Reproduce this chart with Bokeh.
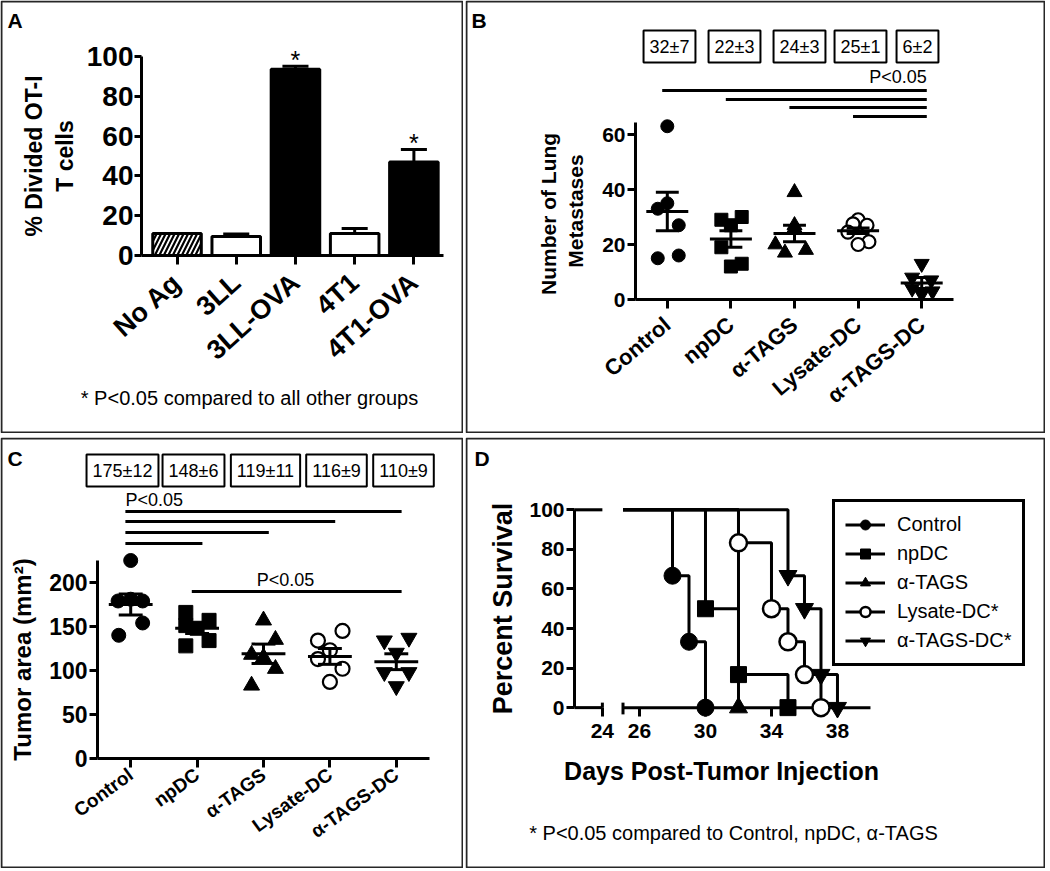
import math
from bokeh.plotting import figure
from bokeh.models import Range1d, FixedTicker, Label, Legend, LegendItem, ColumnDataSource, BoxAnnotation
from bokeh.layouts import row, column
from bokeh.embed import file_html
from bokeh.resources import INLINE
from bokeh.core.properties import value

FONT = "Liberation Sans"

# ======================= DATA =======================
# Panel A
a_groups = ["No Ag", "3LL", "3LL-OVA", "4T1", "4T1-OVA"]
a_means = [11.0, 9.5, 93.5, 11.0, 47.0]
a_sems = [0.0, 1.3, 1.5, 2.6, 6.3]
a_stars = ["", "", "*", "", "*"]
a_yticks = [0, 20, 40, 60, 80, 100]
a_ylabel = "% Divided OT-I\nT cells"
a_note = "* P<0.05 compared to all other groups"

# Panels B and C
groups = ["Control", "npDC", "α-TAGS", "Lysate-DC", "α-TAGS-DC"]

b_control = [63, 33, 35, 27, 15, 16]
b_npdc = [29, 30, 19, 12, 13, 27]
b_atags = [39, 26, 20, 17, 18, 27]
b_lysate = [29, 27.5, 27, 24.5, 21, 20]
b_atagsdc = [13, 8, 7, 4, 2, 3]
b_means = [32, 22, 24, 25, 6]
b_sems = [7, 3, 3, 1, 2]
b_yticks = [0, 20, 40, 60]
b_sig_pairs = [(0, 4), (1, 4), (2, 4), (3, 4)]
b_ylabel = "Number of  Lung\nMetastases"

c_control = [225, 179, 181, 179, 154, 140]
c_npdc = [166, 151, 128, 157, 134, 148]
c_atags = [157, 135, 118, 115, 102, 83]
c_lysate = [145, 134, 123, 113, 102, 87]
c_atagsdc = [134, 137, 120, 98, 98, 82]
c_means = [175, 148, 119, 116, 110]
c_sems = [12, 6, 11, 9, 9]
c_yticks = [0, 50, 100, 150, 200]
c_sig_pairs_top = [(0, 4), (0, 3), (0, 2), (0, 1)]
c_sig_pairs_low = [(1, 4)]
c_ylabel = "Tumor area (mm²)"

sig_text = "P<0.05"

# Panel D (Kaplan-Meier)
d_labels = ["Control", "npDC", "α-TAGS", "Lysate-DC*", "α-TAGS-DC*"]
d_control_days = [28, 29, 30]
d_control_surv = [66.7, 33.3, 0]
d_npdc_days = [30, 32, 35]
d_npdc_surv = [50, 16.7, 0]
d_atags_days = [32]
d_atags_surv = [0]
d_lysate_days = [32, 34, 35, 36, 37]
d_lysate_surv = [83.3, 50, 33.3, 16.7, 0]
d_atagsdc_days = [35, 36, 37, 38]
d_atagsdc_surv = [66.7, 50, 16.7, 0]
d_xticks = [24, 26, 30, 34, 38]
d_yticks = [0, 20, 40, 60, 80, 100]
d_axis_end_day = 40
d_xlabel = "Days Post-Tumor Injection"
d_ylabel = "Percent Survival"
d_note = "* P<0.05 compared to Control, npDC, α-TAGS"

# ======================= LAYOUT / STYLE =======================
marker_types = ["circle", "square", "triangle", "circle", "inverted_triangle"]
marker_fill = ["black", "black", "black", "white", "black"]
a_bar_fill = ["white", "white", "black", "white", "black"]
a_bar_hatch = ["/", " ", " ", " ", " "]

b_jit = [[0, -0.15, 0, 0.18, -0.15, 0.18],
         [-0.15, 0.17, -0.15, 0, 0.17, 0],
         [0, 0, -0.3, -0.15, 0.18, 0],
         [0, -0.08, 0.14, -0.16, 0.17, 0],
         [0, -0.15, 0.15, -0.15, 0, 0.17]]
c_jit = [[0, -0.19, 0, 0.18, 0.18, -0.18],
         [-0.17, -0.17, -0.17, 0.18, 0.18, 0],
         [0, 0.18, -0.18, 0, 0.18, -0.18],
         [0.19, -0.18, 0, -0.18, 0.19, 0],
         [-0.18, 0.19, 0, -0.18, 0.19, 0]]
b_box_px = [204, 269, 334, 395, 452]
c_box_px = [122, 193, 265, 336, 403]


class Frame:
    """Maps canvas pixels (from the top-left of a panel) to data units.
    (l, r, t, b) is the pixel box spanned by the data ranges xr, yr."""

    def __init__(self, W, H, l, r, t, b, xr, yr):
        self.W, self.H = W, H
        self.xr, self.yr = xr, yr
        self.sx = (r - l) / (xr[1] - xr[0])
        self.sy = (b - t) / (yr[1] - yr[0])
        self.x0 = xr[0] - l / self.sx
        self.x1 = xr[1] + (W - r) / self.sx
        self.y0 = yr[0] - (H - b) / self.sy
        self.y1 = yr[1] + t / self.sy

    def x(self, px):
        return self.x0 + px / self.sx

    def y(self, py):
        return self.y1 - py / self.sy

    def dy(self, dpx):
        return dpx / self.sy


def make_fig(f, xaxis_at, yaxis_at):
    p = figure(width=f.W, height=f.H, x_range=Range1d(f.x0, f.x1), y_range=Range1d(f.y0, f.y1),
               min_border=0, min_border_left=0, min_border_right=0, min_border_top=0,
               min_border_bottom=0, toolbar_location=None, output_backend="svg")
    p.xgrid.visible = False
    p.ygrid.visible = False
    p.outline_line_color = None
    p.background_fill_color = "white"
    p.border_fill_color = "white"
    p.xaxis[0].fixed_location = xaxis_at
    p.yaxis[0].fixed_location = yaxis_at
    p.add_layout(BoxAnnotation(left=f.x(1), right=f.x(f.W - 1), top=f.y(1), bottom=f.y(f.H - 1),
                               fill_alpha=0, line_color="#262626", line_alpha=1, line_width=2))
    return p


def style_axis(ax, tick_size, label_size=None, tick_out=7, standoff=2, label_standoff=8):
    ax.axis_line_width = 3
    ax.axis_line_color = "black"
    ax.major_tick_line_width = 3
    ax.major_tick_line_color = "black"
    ax.major_tick_in = 0
    ax.major_tick_out = tick_out
    ax.minor_tick_line_color = None
    ax.major_label_text_font = FONT
    ax.major_label_text_font_style = "bold"
    ax.major_label_text_font_size = f"{tick_size}px"
    ax.major_label_text_color = "black"
    ax.major_label_standoff = standoff
    ax.axis_label_text_font = FONT
    ax.axis_label_text_font_style = "bold"
    if label_size:
        ax.axis_label_text_font_size = f"{label_size}px"
    ax.axis_label_text_color = "black"
    ax.axis_label_standoff = label_standoff


def add_text(p, x, y, text, size, bold=False, align="center", baseline="middle", **kw):
    p.add_layout(Label(x=x, y=y, text=text, text_font=FONT, text_font_size=f"{size}px",
                       text_font_style="bold" if bold else "normal", text_align=align,
                       text_baseline=baseline, text_color="black", **kw))


def px_text(p, f, px, py, text, size, **kw):
    add_text(p, f.x(px), f.y(py), text, size, **kw)


def cat_xaxis(p, cats, size, angle, standoff):
    ax = p.xaxis[0]
    ax.ticker = FixedTicker(ticks=list(range(len(cats))))
    ax.major_label_overrides = {i: c for i, c in enumerate(cats)}
    ax.major_label_orientation = angle
    style_axis(ax, size, tick_out=9, standoff=standoff)


def dot_panel(p, vals_list, jit, means, sems, sizes):
    for i, (vals, js) in enumerate(zip(vals_list, jit)):
        p.scatter(x=[i + j for j in js], y=vals, marker=marker_types[i], size=sizes[i],
                  fill_color=marker_fill[i], line_color="black",
                  line_width=2.2 if marker_fill[i] == "white" else 1)
    idx = list(range(len(means)))
    lo = [m - s for m, s in zip(means, sems)]
    hi = [m + s for m, s in zip(means, sems)]
    kw = dict(line_width=3, line_color="black")
    p.segment(x0=[i - 0.33 for i in idx], x1=[i + 0.33 for i in idx], y0=means, y1=means, **kw)
    p.segment(x0=idx, x1=idx, y0=lo, y1=hi, **kw)
    p.segment(x0=[i - 0.18 for i in idx], x1=[i + 0.18 for i in idx], y0=hi, y1=hi, **kw)
    p.segment(x0=[i - 0.18 for i in idx], x1=[i + 0.18 for i in idx], y0=lo, y1=lo, **kw)


def boxes(p, f, means, sems, pxs, py):
    for m, s, px in zip(means, sems, pxs):
        add_text(p, f.x(px), f.y(py), f"{m}±{s}", 18, border_line_color="black",
                 border_line_width=2, background_fill_color="white", padding=6)


def brackets(p, f, pairs, pys):
    p.segment(x0=[a - 0.08 for a, b in pairs], x1=[b + 0.08 for a, b in pairs],
              y0=[f.y(v) for v in pys], y1=[f.y(v) for v in pys], line_width=3, line_color="black")


# ======================= PANEL A =======================
fa = Frame(463, 433, 141, 443, 32, 255, (-0.6, 4.5), (0, 112))
pA = make_fig(fa, 0, fa.xr[0])
a_idx = list(range(len(a_groups)))
a_etop = [m + s for m, s in zip(a_means, a_sems)]
srcA = ColumnDataSource(dict(x=a_idx, top=a_means, fill=a_bar_fill, hatch=a_bar_hatch, etop=a_etop,
                             star_y=[e + fa.dy(6) for e in a_etop], star=a_stars,
                             c0=[i - 0.22 for i in a_idx], c1=[i + 0.22 for i in a_idx]))
pA.vbar(x="x", top="top", bottom=0, width=0.82, source=srcA, fill_color="fill", line_color="black",
        line_width=3, hatch_pattern="hatch", hatch_color="black", hatch_weight=2.2, hatch_scale=9)
pA.segment(x0="x", y0="top", x1="x", y1="etop", source=srcA, line_width=3, line_color="black")
pA.segment(x0="c0", y0="etop", x1="c1", y1="etop", source=srcA, line_width=3, line_color="black")
pA.text(x="x", y="star_y", text="star", source=srcA, text_font=value(FONT), text_font_size=value("25px"),
        text_align="center", text_baseline="alphabetic", text_color="black")
cat_xaxis(pA, a_groups, 27, 0.73, 14)
pA.xaxis[0].bounds = fa.xr
ya = pA.yaxis[0]
ya.ticker = FixedTicker(ticks=a_yticks)
ya.bounds = (0, 100)
ya.axis_label = a_ylabel
style_axis(ya, 28, 23, tick_out=7, standoff=1, label_standoff=6)
px_text(pA, fa, 7, 8, "A", 21, bold=True, align="left", baseline="top")
px_text(pA, fa, 249, 397, a_note, 20)

# ======================= PANEL B =======================
fb = Frame(580, 433, 170, 488, 24, 299, (-0.5, 4.5), (0, 100))
pB = make_fig(fb, 0, fb.xr[0])
dot_panel(pB, [b_control, b_npdc, b_atags, b_lysate, b_atagsdc], b_jit, b_means, b_sems,
          [13, 13, 15, 13, 15])
boxes(pB, fb, b_means, b_sems, b_box_px, 46)
brackets(pB, fb, b_sig_pairs, [90, 99, 107, 116])
add_text(pB, b_sig_pairs[0][1] + 0.08, fb.y(76), sig_text, 18, align="right")
cat_xaxis(pB, groups, 22, 0.70, 13)
pB.xaxis[0].bounds = fb.xr
yb = pB.yaxis[0]
yb.ticker = FixedTicker(ticks=b_yticks)
yb.bounds = (0, 64.5)
yb.axis_label = b_ylabel
style_axis(yb, 21, 21, tick_out=8, standoff=2, label_standoff=12)
px_text(pB, fb, 6, 8, "B", 21, bold=True, align="left", baseline="top")

# ======================= PANEL C =======================
fc = Frame(463, 431, 97, 429, 13, 321, (-0.5, 4.5), (0, 350))
pC = make_fig(fc, 0, fc.xr[0])
dot_panel(pC, [c_control, c_npdc, c_atags, c_lysate, c_atagsdc], c_jit, c_means, c_sems,
          [14, 14, 16, 14, 16])
boxes(pC, fc, c_means, c_sems, c_box_px, 33)
brackets(pC, fc, c_sig_pairs_top, [74, 84, 95, 106])
add_text(pC, c_sig_pairs_top[0][0] - 0.08, fc.y(62), sig_text, 18, align="left")
brackets(pC, fc, c_sig_pairs_low, [154])
px_text(pC, fc, 285, 142, sig_text, 18)
cat_xaxis(pC, groups, 19, 0.63, 5)
pC.xaxis[0].bounds = fc.xr
yc = pC.yaxis[0]
yc.ticker = FixedTicker(ticks=c_yticks)
yc.bounds = (0, 225)
yc.axis_label = c_ylabel
style_axis(yc, 23, 24, tick_out=8, standoff=2, label_standoff=10)
px_text(pC, fc, 7, 9, "C", 21, bold=True, align="left", baseline="top")

# ======================= PANEL D =======================
fd = Frame(580, 431, 109, 565, 13, 282, (22.06, 49.7), (-6, 130))
pD = make_fig(fd, 0, fd.xr[0])
d_break_lo = 23.75   # display position of the "24" end of the left axis segment
d_break_hi = 25.0    # start of the right axis segment
tick_len = fd.dy(9)
break_up = fd.dy(5)

# broken x axis drawn at y = 0
pD.segment(x0=[fd.xr[0], d_break_hi], x1=[d_break_lo, d_axis_end_day], y0=[0, 0], y1=[0, 0],
           line_width=3, line_color="black")
d_tick_pos = [d_break_lo if t < d_break_hi else t for t in d_xticks]
pD.segment(x0=[d_break_lo, d_break_hi], x1=[d_break_lo, d_break_hi], y0=[break_up, break_up],
           y1=[0, -tick_len * 0.75], line_width=3, line_color="black")
# left part of the 100% line
pD.segment(x0=[fd.xr[0]], x1=[d_break_lo], y0=[100], y1=[100], line_width=3, line_color="black")

d_days = [d_control_days, d_npdc_days, d_atags_days, d_lysate_days, d_atagsdc_days]
d_surv = [d_control_surv, d_npdc_surv, d_atags_surv, d_lysate_surv, d_atagsdc_surv]
d_sizes = [17, 16, 18, 17, 18]
line_rs = []
for days, surv in zip(d_days, d_surv):
    line_rs.append(pD.step(x=[d_break_hi] + days, y=[100] + surv, mode="after", line_width=3,
                           line_color="black"))
items = []
for i, (days, surv) in enumerate(zip(d_days, d_surv)):
    sr = pD.scatter(x=days, y=surv, marker=marker_types[i], size=d_sizes[i], fill_color=marker_fill[i],
                    line_color="black", line_width=2.5 if marker_fill[i] == "white" else 1)
    items.append(LegendItem(label=d_labels[i], renderers=[line_rs[i], sr]))

legend = Legend(items=items, location=(367, 202), border_line_color="black", border_line_width=3,
                border_line_alpha=1, background_fill_color="white", background_fill_alpha=1,
                label_text_font=FONT, label_text_font_size="20px", label_text_color="black",
                glyph_width=40, glyph_height=25, label_height=25, label_standoff=12,
                spacing=4, padding=10, margin=0)
pD.add_layout(legend)

xd = pD.xaxis[0]
xd.ticker = FixedTicker(ticks=d_tick_pos)
xd.major_label_overrides = {pos: str(t) for pos, t in zip(d_tick_pos, d_xticks)}
style_axis(xd, 21, tick_out=9, standoff=7)
xd.axis_line_color = None

yd = pD.yaxis[0]
yd.ticker = FixedTicker(ticks=d_yticks)
yd.bounds = (0, 100)
yd.axis_label = d_ylabel
style_axis(yd, 21, 27, tick_out=8, standoff=2, label_standoff=8)

px_text(pD, fd, 256, 333, d_xlabel, 25, bold=True)
px_text(pD, fd, 268, 395, d_note, 20)
px_text(pD, fd, 9, 9, "D", 21, bold=True, align="left", baseline="top")

layout = column(row(pA, pB, spacing=2), row(pC, pD, spacing=2), spacing=4)
open("out.html", "w").write(file_html(layout, INLINE))
